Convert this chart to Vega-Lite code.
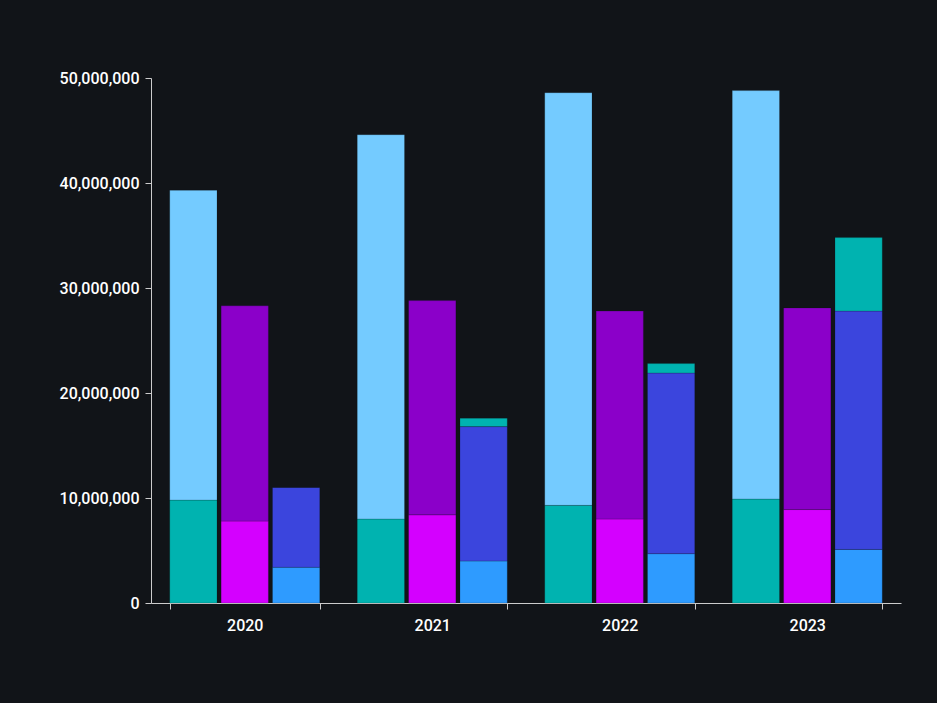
{
  "$schema": "https://vega.github.io/schema/vega-lite/v6.json",
  "width": 750,
  "height": 525,
  "autosize": {"type": "none"},
  "padding": {"left": 151, "top": 78, "right": 36, "bottom": 100},
  "background": "#111418",
  "data": {
    "values": [
      {"year": "2020", "grp": "A", "seg": "A1", "ord": 1, "value": 9800000},
      {"year": "2020", "grp": "A", "seg": "A2", "ord": 2, "value": 29500000},
      {"year": "2020", "grp": "B", "seg": "B1", "ord": 1, "value": 7800000},
      {"year": "2020", "grp": "B", "seg": "B2", "ord": 2, "value": 20500000},
      {"year": "2020", "grp": "C", "seg": "C1", "ord": 1, "value": 3400000},
      {"year": "2020", "grp": "C", "seg": "C2", "ord": 2, "value": 7600000},
      {"year": "2020", "grp": "C", "seg": "C3", "ord": 3, "value": 0},
      {"year": "2021", "grp": "A", "seg": "A1", "ord": 1, "value": 8000000},
      {"year": "2021", "grp": "A", "seg": "A2", "ord": 2, "value": 36600000},
      {"year": "2021", "grp": "B", "seg": "B1", "ord": 1, "value": 8400000},
      {"year": "2021", "grp": "B", "seg": "B2", "ord": 2, "value": 20400000},
      {"year": "2021", "grp": "C", "seg": "C1", "ord": 1, "value": 4000000},
      {"year": "2021", "grp": "C", "seg": "C2", "ord": 2, "value": 12800000},
      {"year": "2021", "grp": "C", "seg": "C3", "ord": 3, "value": 800000},
      {"year": "2022", "grp": "A", "seg": "A1", "ord": 1, "value": 9300000},
      {"year": "2022", "grp": "A", "seg": "A2", "ord": 2, "value": 39300000},
      {"year": "2022", "grp": "B", "seg": "B1", "ord": 1, "value": 8000000},
      {"year": "2022", "grp": "B", "seg": "B2", "ord": 2, "value": 19800000},
      {"year": "2022", "grp": "C", "seg": "C1", "ord": 1, "value": 4700000},
      {"year": "2022", "grp": "C", "seg": "C2", "ord": 2, "value": 17200000},
      {"year": "2022", "grp": "C", "seg": "C3", "ord": 3, "value": 900000},
      {"year": "2023", "grp": "A", "seg": "A1", "ord": 1, "value": 9900000},
      {"year": "2023", "grp": "A", "seg": "A2", "ord": 2, "value": 38900000},
      {"year": "2023", "grp": "B", "seg": "B1", "ord": 1, "value": 8900000},
      {"year": "2023", "grp": "B", "seg": "B2", "ord": 2, "value": 19200000},
      {"year": "2023", "grp": "C", "seg": "C1", "ord": 1, "value": 5100000},
      {"year": "2023", "grp": "C", "seg": "C2", "ord": 2, "value": 22700000},
      {"year": "2023", "grp": "C", "seg": "C3", "ord": 3, "value": 7000000}
    ]
  },
  "mark": {"type": "bar", "stroke": "#111418", "strokeWidth": 0.5, "strokeOpacity": 0.4},
  "encoding": {
    "x": {
      "field": "year", "type": "nominal", "title": null,
      "scale": {"paddingInner": 0.2, "paddingOuter": 0.1},
      "axis": {"labelAngle": 0, "tickBand": "extent", "labelPadding": 8}
    },
    "xOffset": {"field": "grp", "type": "nominal", "scale": {"paddingInner": 0.08, "paddingOuter": 0}},
    "y": {
      "field": "value", "type": "quantitative", "aggregate": "sum", "stack": "zero", "title": null,
      "scale": {"domain": [0, 50000000]},
      "axis": {"format": ",d", "tickCount": 5, "grid": false, "labelPadding": 6}
    },
    "color": {
      "field": "seg", "type": "nominal", "legend": null,
      "scale": {
        "domain": ["A1", "A2", "B1", "B2", "C1", "C2", "C3"],
        "range": ["#00b3b0", "#74cbff", "#d400ff", "#8b00c9", "#2e9bff", "#3b45dd", "#00b3b0"]
      }
    },
    "order": {"field": "ord", "type": "quantitative"}
  },
  "config": {
    "view": {"stroke": null},
    "axis": {
      "domainColor": "#cccccc",
      "tickColor": "#cccccc",
      "tickSize": 6,
      "labelColor": "#ffffff",
      "labelFont": "Roboto",
      "labelFontSize": 16,
      "labelFontWeight": 500
    }
  }
}
